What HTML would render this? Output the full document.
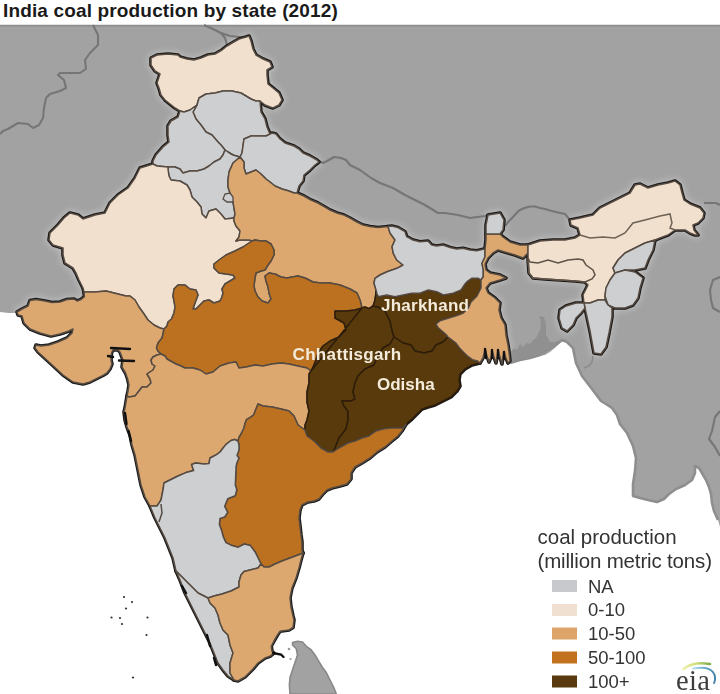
<!DOCTYPE html>
<html><head><meta charset="utf-8"><style>
html,body{margin:0;padding:0;background:#fff;}
body{width:720px;height:694px;overflow:hidden;position:relative;}
.title{position:absolute;left:3px;top:-0.5px;letter-spacing:0.15px;font-family:"Liberation Sans",sans-serif;font-weight:bold;font-size:19px;color:#1a1a1a;line-height:22px;white-space:nowrap;}
svg{position:absolute;left:0;top:0;filter:blur(0.3px);}
.lab{font-family:"Liberation Sans",sans-serif;font-weight:bold;font-size:17px;fill:#f3ebdb;}
.lt{font-family:"Liberation Sans",sans-serif;font-size:20.5px;fill:#333;}
.ll{font-family:"Liberation Sans",sans-serif;font-size:18.5px;fill:#333;}
.eia{font-family:"Liberation Serif",serif;font-size:28.5px;fill:#3d3d3d;letter-spacing:0.4px;}
</style></head><body>
<svg width="720" height="694" viewBox="0 0 720 694">
<rect x="0" y="0" width="720" height="694" fill="#ffffff"/>
<polygon points="0,25 720,25 720,527 718,520 714,511 712,503 711,494 709,487 706,480 702,473 699,468 695,466 695,473 692,480 685,485 676,489 669,494 664,499 657,502 648,500 640,498 633,496 633,493 633,484 635,471 636,458 633,446 627,433 620,424 617,415 612,408 606,404 601,401 592,389 582,376 576,363 573,348 567,342 562,340 556,345 548,350 540,355 530,358 520,360 510,363 500,330 300,330 150,330 60,315 20,312 17,313 9,313 0,312" fill="#a2a2a2"/>
<rect x="0" y="24" width="720" height="1" fill="#e2e2e2"/><rect x="0" y="25" width="720" height="1.6" fill="#8f8f8f"/>
<polygon points="292.5,642.5 297.5,641.3 302.5,642 306.3,646.3 311.3,650 315,655 318.8,661.3 322.5,667.5 326.3,672.5 330,680 333.8,687.5 336.3,694 290,694 289.4,685 290,677.5 292.5,670 295,662.5 297.5,655 296.3,648.8 292.5,645" fill="#a2a2a2" stroke="#888" stroke-width="1.6" stroke-linejoin="round"/>
<circle cx="289" cy="649" r="1.3" fill="#999"/><circle cx="290.5" cy="659" r="1.1" fill="#999"/>
<clipPath id="landclip"><polygon points="0,25 720,25 720,527 718,520 714,511 712,503 711,494 709,487 706,480 702,473 699,468 695,466 695,473 692,480 685,485 676,489 669,494 664,499 657,502 648,500 640,498 633,496 633,493 633,484 635,471 636,458 633,446 627,433 620,424 617,415 612,408 606,404 601,401 592,389 582,376 576,363 573,348 567,342 562,340 556,345 548,350 540,355 530,358 520,360 510,363 500,330 300,330 150,330 60,315 20,312 17,313 9,313 0,312"/></clipPath>
<filter id="blur3" x="-10%" y="-10%" width="120%" height="120%"><feGaussianBlur stdDeviation="3"/></filter>
<g clip-path="url(#landclip)"><g filter="url(#blur3)" opacity="0.45">
<polygon points="180,111 175,108 170,104 165,100 161,95 159,88 157,83 160,74 155,71 151,65 151,58 157,55 168,54 178,55 180,57 187,59 194,60 201,58 208,55 215,54 222,50 227,46 232,43 239,39 246,37 249,36 251,41 253,49 256,55 263,59 270,62 272,67 267,70 267,75 268,84 273,88 279,93 282,100 279,105 273,108 270,107 265,105 260,101 256,101 251,99 246,96 241,93 232,91 223,91 215,93 206,94 199,98 197,105 190,110 184,112" fill="#d8d8da" stroke="#d8d8da" stroke-width="7" stroke-linejoin="round"/>
<polygon points="197,105 199,98 206,94 215,93 223,91 232,91 241,93 246,96 251,99 256,101 260,101 261,112 265,119 267,127 270,134 266,136 259,136 251,136 244,139 243,146 242,153 240,157 233,155 228,152 225,150 221,145 218,142 212,135 206,132 201,125 196,119 193,112" fill="#d8d8da" stroke="#d8d8da" stroke-width="7" stroke-linejoin="round"/>
<polygon points="197,105 193,112 196,119 201,125 206,132 212,135 218,142 221,145 225,150 223,155 220,159 214,162 209,166 204,169 197,171 190,171 183,173 180,169 175,167 168,167 157,166 153,164 153,161 156,155 163,147 169,142 168,135 168,126 171,121 178,117 180,111 184,112 190,110" fill="#d8d8da" stroke="#d8d8da" stroke-width="7" stroke-linejoin="round"/>
<polygon points="168,167 175,167 180,169 183,173 190,171 197,171 204,169 209,166 214,162 220,159 223,155 225,150 228,152 233,155 240,157 233,163 229,172 228,180 228,187 230,193 233,202 234,208 235,214 234,218 225,219 221,214 216,209 209,211 206,218 202,214 201,207 197,202 192,197 190,190 187,185 180,181 171,180 169,176 168,169" fill="#d8d8da" stroke="#d8d8da" stroke-width="7" stroke-linejoin="round"/>
<polygon points="270,134 272,133 276,134 280,139 285,143 294,146 299,149 303,153 310,156 317,160 319,162 315,165 310,170 304,175 303,181 299,186 297,193 294,193 289,191 282,189 275,186 270,182 266,179 261,174 256,170 251,172 246,174 244,168 244,162 240,157 242,153 243,146 244,139 251,136 259,136 266,136" fill="#d8d8da" stroke="#d8d8da" stroke-width="7" stroke-linejoin="round"/>
<polygon points="153,164 140,168 135,178 128,188 118,195 110,203 105,213 95,215 83,219 78,215 70,213 64,218 58,225 50,233 49,240 53,245 63,248 63,255 65,263 73,268 76,273 79,280 83,288 84,292 95,292 106,291 118,294 126,296 130,296 135,300 139,307 144,314 148,320 154,325 160,328 164,329 167,326 168,322 171.5,319 174,313 175,307 174,301 173,296 174,289 178,285 185,285 190,289 196,290 198,295 195,303 193,309 196,309 200,305 204,301 209,300 214,303 220,301 222,297 223,293 222,289 225,284 230,281 235,278 233,275 226,274 219,273 214,268 214,264 219,260 226,255 235,251 243,247 252,241 249,240 240,240 236,241 239,237 240,231 236,226 234,221 234,218 225,219 221,214 216,209 209,211 206,218 202,214 201,207 197,202 192,197 190,190 187,185 180,181 171,180 169,176 168,169 168,167 157,166" fill="#d8d8da" stroke="#d8d8da" stroke-width="7" stroke-linejoin="round"/>
<polygon points="240,157 244,162 244,168 246,174 251,172 256,170 261,174 266,179 270,182 275,186 282,189 289,191 294,193 297,193 304,196 311,200 318,203 325,207 330,210 337,213 344,215 350,218 357,222 363,225 370,226.5 378,227.5 388,226.5 390,233 395,240 392,246.7 393.3,253.3 396.7,260 403,265 397,268.3 387,271.7 380,275 375,278.3 374,283 376,290 375.7,295 374.7,301 373,306 369,308.6 365,307 362,308 360,300 357,293 350,289 340,285 330,283 321,283 313,282 305,278 298,276 292,277 287,278 281,277 275,274 269,273 265,276 266,281 268,287 269,293 271,299 268,303 262,301 258,297 255,291 254,286 255,278 256,273 261,271 265,270 268,265 271,261 274,255 274,250 271,244 266,241 261,241 255,240 252,241 249,240 240,240 236,241 239,237 240,231 236,226 234,221 234,218 235,214 234,208 233,202 230,193 228,187 228,180 229,172 233,163" fill="#d8d8da" stroke="#d8d8da" stroke-width="7" stroke-linejoin="round"/>
<polygon points="84,292 84.4,296.7 81,299.5 77,301 74,299 67,299.5 60,302 52,302.6 45,301 36,299.5 30,300.5 28,306 22,309 17,312 18,315 22,316 24,323 30,329 40,333 51,336 60,334 69,331 73,329 72,333 67,338 58,342 49,345 41,346 36,345 35,348 38,352 50,363 63,375 73,382 83,384 90,382 96.5,378.6 103,375.4 107,373 110,369 112,364 111,360 111.5,353 113,350 118,350 120,352 123,360 122,367 125.5,373 127.6,379 129,385 128,391 127,396 129,397 135,396 139,391 142,387 147,387 151,383 150,379 147,374 153,370 155,366 152,364 151,360 153,357 157,355 161,354 158,351 156.5,348 158,343 162,338 163,334 164,329 160,328 154,325 148,320 144,314 139,307 135,300 130,296 126,296 118,294 106,291 95,292" fill="#d8d8da" stroke="#d8d8da" stroke-width="7" stroke-linejoin="round"/>
<polygon points="164,329 163,334 162,338 158,343 156.5,348 158,351 161,354 165,356 167,359 171.5,361.5 176,364 181,366 185,368 193,368 200,370 206,374 213,372 220,366 229,363 236,362 239,368 246,367 255,365 263,366 272,364 281,363 289,364 298,366 307,368 311,371 313,367 316,360 318,353 323,346 330,341 339,337 346,330 344,323 335,318 335,311 346,311 355,310 362,308 360,300 357,293 350,289 340,285 330,283 321,283 313,282 305,278 298,276 292,277 287,278 281,277 275,274 269,273 265,276 266,281 268,287 269,293 271,299 268,303 262,301 258,297 255,291 254,286 255,278 256,273 261,271 265,270 268,265 271,261 274,255 274,250 271,244 266,241 261,241 255,240 252,241 243,247 235,251 226,255 219,260 214,264 214,268 219,273 226,274 233,275 235,278 230,281 225,284 222,289 223,293 222,297 220,301 214,303 209,300 204,301 200,305 196,309 193,309 195,303 198,295 196,290 190,289 185,285 178,285 174,289 173,296 174,301 175,307 174,313 171.5,319 168,322 167,326" fill="#d8d8da" stroke="#d8d8da" stroke-width="7" stroke-linejoin="round"/>
<polygon points="161,354 157,355 153,357 151,360 152,364 155,366 153,370 147,374 150,379 151,383 147,387 142,387 139,391 135,396 129,397 127,396 126,402 125,408 124,412 125,420 127,427 130,435 132,445 135,455 138,470 141,485 145,497 150,506 157,506 161,500 163,490 164,483 170,480 178,476 186,472.6 193.6,470.6 191.6,464.5 195.6,463 200,463.4 204,464 209,463.5 210,458 213,456.5 216.5,454.7 220,452 222.5,448.7 226,444.4 231,440.5 234.6,439.5 238,441 239,437.5 241.5,433.2 244,428 245,423.6 246.7,419.3 250,417.6 253.6,415 258,404 263,406 272,407 281,409 289,411 294,416 298,425 305,430 305,425 307,420 309,411 307,402 307,392 309,383 309,374 311,371 307,368 298,366 289,364 281,363 272,364 263,366 255,365 246,367 239,368 236,362 229,363 220,366 213,372 206,374 200,370 193,368 185,368 181,366 176,364 171.5,361.5 167,359 165,356" fill="#d8d8da" stroke="#d8d8da" stroke-width="7" stroke-linejoin="round"/>
<polygon points="362,308 355,310 346,311 335,311 335,318 344,323 346,330 339,337 330,341 323,346 318,353 316,360 313,367 311,371 362,308 365,307 369,308.6 373,306 378,307 385,311 390,321 392,330 394,337 390,344 383,348 378,355 374,365 365,369 358,376 355,383 353,392 355,399 351,401 342,401 344,406 348,411 348,420 346,429 339,438 335,448 333,452 328,452 321,448 314,441 307,436 305,430 305,425 307,420 309,411 307,402 307,392 309,383 309,374 311,371" fill="#d8d8da" stroke="#d8d8da" stroke-width="7" stroke-linejoin="round"/>
<polygon points="376,290 377,294 378.3,296.7 386.7,295 395,296.7 403.3,295 411.7,293.3 420,293.3 428.3,290 436.7,291.7 443.3,295 453.3,293.3 461,290 465,284 467,281.7 471.7,278.3 478.3,278.3 481,280 481,288 477,296 471,302 468.5,307.8 463.3,313 457,315.6 448,318.2 440,320.8 436,324 438,327.5 442,331 446,334.5 448,337 443,342 436,345 432,351 424,353 415,351 411,345 403,343 394,337 392,330 390,321 385,311 378,307 373,306 374.7,301 375.7,295" fill="#d8d8da" stroke="#d8d8da" stroke-width="7" stroke-linejoin="round"/>
<polygon points="394,337 403,343 411,345 415,351 424,353 432,351 436,345 443,342 448,337 452,340 455.6,342.8 459.5,348 463.3,352 467.2,355.8 472.4,359.7 477.6,361 480,363 472,365 465,369 460,374 459,380 460,386 457,391 451,397 443,401 435,405 428,407 422,409 418,413 412,419 406,424 403,428 397,428 390,428 383,429 376,431 369,436 362,438 355,441 348,443 339,448 333,452 335,448 339,438 346,429 348,420 348,411 344,406 342,401 351,401 355,399 353,392 355,383 358,376 365,369 374,365 378,355 383,348 390,344" fill="#d8d8da" stroke="#d8d8da" stroke-width="7" stroke-linejoin="round"/>
<polygon points="388,226.5 391.7,226 398,227.5 405,231.7 406.7,236.7 413,240 420,241.7 428,241 431.7,245 436.7,246 443,245 450,247.5 456.7,249 463,248.3 470,250 476.7,250.8 483,249.2 485,249 485,256.7 482,263.3 483.3,270 483.3,276.7 481,280 478.3,278.3 471.7,278.3 467,281.7 465,284 461,290 453.3,293.3 443.3,295 436.7,291.7 428.3,290 420,293.3 411.7,293.3 403.3,295 395,296.7 386.7,295 378.3,296.7 377,294 376,290 374,283 375,278.3 380,275 387,271.7 397,268.3 403,265 396.7,260 393.3,253.3 392,246.7 395,240 390,233" fill="#d8d8da" stroke="#d8d8da" stroke-width="7" stroke-linejoin="round"/>
<polygon points="485,249 486,240 486,234 488,234 500,234 503,237 510,242 520,245 528,245 528,253 523,258 515,255 508,253 498,250 493,253 488,258 485,264 486,270 490,273 500,275 506,278 500,280 490,283 486,288 488,293 495,298 500,303 499,310 501,318 505,325 506,335 508,345 509,352 510,361 508,363 506,358 504,352 503,357 502,364 500,357 498,350 497,357 496,363 494,357 492,350 491,357 489,362 487,356 485,349 483,358 480,363 477.6,361 472.4,359.7 467.2,355.8 463.3,352 459.5,348 455.6,342.8 452,340 448,337 446,334.5 442,331 438,327.5 436,324 440,320.8 448,318.2 457,315.6 463.3,313 468.5,307.8 471,302 477,296 481,288 481,280 483.3,276.7 483.3,270 482,263.3 485,256.7" fill="#d8d8da" stroke="#d8d8da" stroke-width="7" stroke-linejoin="round"/>
<polygon points="486,234 486,225 488,215 500,213 504,220 503,230 500,234 488,234" fill="#d8d8da" stroke="#d8d8da" stroke-width="7" stroke-linejoin="round"/>
<polygon points="238,441 239,445 239,450 237,455.6 239,458 237,462.5 236,467 236,470 235.3,485 236.8,489.7 235.3,495.7 227.7,498.7 224.7,506.3 227.7,512.4 224.7,517 220,518.4 219.4,524.5 221.6,530.5 223.2,536.6 226,542.6 232,545.6 238.3,547.2 244.3,544 250.4,545.6 255,551.7 258,557.7 261,564 264,567 269,567 275,564 282,561 290,558 298,555 303,553 302,550 302,542 301,535 300,526 299,518 300,510 302,505 308,502 314,501 319,499 323,494 327,490 332,488 340,486 347,484 351,479 351,473 355,467 362,463 370,458 377,452 385,447 392,441 398,436 402,431 406,424 403,428 397,428 390,428 383,429 376,431 369,436 362,438 355,441 348,443 339,448 333,452 328,452 321,448 314,441 307,436 305,430 298,425 294,416 289,411 281,409 272,407 263,406 258,404 253.6,415 250,417.6 246.7,419.3 245,423.6 244,428 241.5,433.2 239,437.5" fill="#d8d8da" stroke="#d8d8da" stroke-width="7" stroke-linejoin="round"/>
<polygon points="238,441 234.6,439.5 231,440.5 226,444.4 222.5,448.7 220,452 216.5,454.7 213,456.5 210,458 209,463.5 204,464 200,463.4 195.6,463 191.6,464.5 193.6,470.6 186,472.6 178,476 170,480 164,483 163,490 161,500 157,506 150,506 155,518 160,528 165,538 169,548 173,558 176,571 183,578 190,585 198,593 208,598 214,596 222,594 231,591 239,587 239,582 241,575 244,571.4 250,570 258,568 261,564 258,557.7 255,551.7 250.4,545.6 244.3,544 238.3,547.2 232,545.6 226,542.6 223.2,536.6 221.6,530.5 219.4,524.5 220,518.4 224.7,517 227.7,512.4 224.7,506.3 227.7,498.7 235.3,495.7 236.8,489.7 235.3,485 236,470 236,467 237,462.5 239,458 237,455.6 239,450 239,445" fill="#d8d8da" stroke="#d8d8da" stroke-width="7" stroke-linejoin="round"/>
<polygon points="176,571 180,580 185,593 190,603 195,613 200,623 205,633 210,643 214,653 218,663 223,670 228,676 234,680 230,673 230,663 233,653 230,645 228,635 223,630 220,623 218,615 215,608 210,603 208,598 198,593 190,585 183,578" fill="#d8d8da" stroke="#d8d8da" stroke-width="7" stroke-linejoin="round"/>
<polygon points="261,564 264,567 269,567 275,564 282,561 290,558 298,555 303,553 301,560 299,568 296,578 292,588 290,598 291,607 293,616 294,620 293,627.5 289,630 280,631.3 277.5,635 274,641 271.3,646.3 272,651.3 274,653 270,656.3 265,658 258,663 253,669 245,677 238,681 234,680 230,673 230,663 233,653 230,645 228,635 223,630 220,623 218,615 215,608 210,603 208,598 214,596 222,594 231,591 239,587 239,582 241,575 244,571.4 250,570 258,568" fill="#d8d8da" stroke="#d8d8da" stroke-width="7" stroke-linejoin="round"/>
<polygon points="528,245 540,241 553,240 565,240 575,238 580,235 578,228 571,225 570,220 580,218 593,215 600,208 610,203 620,198 630,193 635,185 640,184 648,188 658,185 668,183 675,181 680,185 682,193 684,200 690,204 700,208 704,213 703,218 698,223 693,225 694,230 698,235 695,235 690,233 685,230 675,230 668,235 660,238 655,240 645,243 635,248 625,253 618,260 613,268 615,273 610,280 606,288 605,296 605,300 598,300 590,303 584,303 583,295 588,285 585,282 575,281 560,280 545,279 533,278 529,273 528,258 528,253" fill="#d8d8da" stroke="#d8d8da" stroke-width="7" stroke-linejoin="round"/>
<polygon points="655,240 653,250 648,260 645,268 635,270 625,270 615,273 613,268 618,260 625,253 635,248 645,243" fill="#d8d8da" stroke="#d8d8da" stroke-width="7" stroke-linejoin="round"/>
<polygon points="615,273 625,270 635,272 643,278 640,288 638,298 633,305 625,308 615,308 608,305 605,296 606,288 610,280" fill="#d8d8da" stroke="#d8d8da" stroke-width="7" stroke-linejoin="round"/>
<polygon points="584,303 590,303 598,300 605,300 608,305 612,308 612,317 609,333 606,347 601,354 594,353 592,342 590,331 587,317 585,308" fill="#d8d8da" stroke="#d8d8da" stroke-width="7" stroke-linejoin="round"/>
<polygon points="560,310 566,306 576,303 584,303 585,308 581,313 576,318 573,325 567,331 562,328 559,318" fill="#d8d8da" stroke="#d8d8da" stroke-width="7" stroke-linejoin="round"/>
</g></g>
<polygon points="510,363 511,352 514,348 517,350 520,344 523,347 527,343 530,344 533,340 536,338 540,330 541,322 539,316 544,317 546,325 546,335 550,342 555,342 560,340 556,347 550,352 545,355 535,357 525,358 518,360" fill="#8c8c8c" opacity="0.8"/>
<polyline points="718,520 714,511 712,503 711,494 709,487 706,480 702,473 699,468 695,466 695,473 692,480 685,485 676,489 669,494 664,499 657,502 648,500 640,498 633,496 633,493 633,484 635,471 636,458 633,446 627,433 620,424 617,415 612,408 606,404 601,401 592,389 582,376 576,363 573,348 567,342 562,340 556,345 548,350 540,355 530,358 520,360 510,363" fill="none" stroke="#8e8e8e" stroke-width="2.6" stroke-linejoin="round"/>
<polyline points="584,368 589,366 592,362 593,356" fill="none" stroke="#8a8a8a" stroke-width="1.5"/>
<polyline points="720,277 713,280 710,290 711,300 713,308 720,312" fill="none" stroke="#767676" stroke-width="2.1" stroke-linejoin="round"/>
<polyline points="93,25 98,35 98,45 90,53 85,60 86,69 80,73 60,73 58,75 64,80 66,88 60,91 50,94 46,98 44,108 43,118 39,125 33,128 28,124 18,123 8,129 3,131 0,134" fill="none" stroke="#767676" stroke-width="2.1" stroke-linejoin="round"/>
<polyline points="204,25 213,29 221,33 225,38 227,45" fill="none" stroke="#767676" stroke-width="2.1" stroke-linejoin="round"/>
<polyline points="221,33 230,36 240,37 246,37" fill="none" stroke="#767676" stroke-width="2.1" stroke-linejoin="round"/>
<polyline points="317,160 323,163 329,160 334,157 341,158 346,160 350,165 360,170 371,178 380,183 393,188 405,195 415,200 425,205 438,213 445,213 458,215 470,218 485,216 488,215" fill="none" stroke="#767676" stroke-width="2.1" stroke-linejoin="round"/>
<polyline points="505,226 509,221 513,217 519,210.5 524.5,208 530,206.5 535,206.5 540,208 545,209 550,210.5 556,212 565,214 570,220" fill="none" stroke="#767676" stroke-width="2.1" stroke-linejoin="round"/>
<polyline points="704,203 716,203 720,205" fill="none" stroke="#767676" stroke-width="2.1" stroke-linejoin="round"/>
<polyline points="720,411 715,417 712,431 709,439 715,447 720,456" fill="none" stroke="#767676" stroke-width="2.1" stroke-linejoin="round"/>
<circle cx="124" cy="597" r="1.1" fill="#333"/>
<circle cx="132" cy="602" r="1.1" fill="#333"/>
<circle cx="126" cy="608.5" r="1.1" fill="#333"/>
<circle cx="111.5" cy="617.5" r="1.1" fill="#333"/>
<circle cx="120" cy="618" r="1.1" fill="#333"/>
<circle cx="122" cy="624" r="1.1" fill="#333"/>
<circle cx="147.5" cy="617.5" r="1.1" fill="#333"/>
<circle cx="146.5" cy="635" r="1.1" fill="#333"/>
<circle cx="133" cy="677.5" r="1.1" fill="#333"/>
<polygon points="180,111 175,108 170,104 165,100 161,95 159,88 157,83 160,74 155,71 151,65 151,58 157,55 168,54 178,55 180,57 187,59 194,60 201,58 208,55 215,54 222,50 227,46 232,43 239,39 246,37 249,36 251,41 253,49 256,55 263,59 270,62 272,67 267,70 267,75 268,84 273,88 279,93 282,100 279,105 273,108 270,107 265,105 260,101 256,101 251,99 246,96 241,93 232,91 223,91 215,93 206,94 199,98 197,105 190,110 184,112" fill="#f1e0ce" stroke="#1a1816" stroke-width="3.6" stroke-linejoin="round"/>
<polygon points="197,105 199,98 206,94 215,93 223,91 232,91 241,93 246,96 251,99 256,101 260,101 261,112 265,119 267,127 270,134 266,136 259,136 251,136 244,139 243,146 242,153 240,157 233,155 228,152 225,150 221,145 218,142 212,135 206,132 201,125 196,119 193,112" fill="#cecfd1" stroke="#1a1816" stroke-width="3.6" stroke-linejoin="round"/>
<polygon points="197,105 193,112 196,119 201,125 206,132 212,135 218,142 221,145 225,150 223,155 220,159 214,162 209,166 204,169 197,171 190,171 183,173 180,169 175,167 168,167 157,166 153,164 153,161 156,155 163,147 169,142 168,135 168,126 171,121 178,117 180,111 184,112 190,110" fill="#cecfd1" stroke="#1a1816" stroke-width="3.6" stroke-linejoin="round"/>
<polygon points="168,167 175,167 180,169 183,173 190,171 197,171 204,169 209,166 214,162 220,159 223,155 225,150 228,152 233,155 240,157 233,163 229,172 228,180 228,187 230,193 233,202 234,208 235,214 234,218 225,219 221,214 216,209 209,211 206,218 202,214 201,207 197,202 192,197 190,190 187,185 180,181 171,180 169,176 168,169" fill="#cecfd1" stroke="#1a1816" stroke-width="3.6" stroke-linejoin="round"/>
<polygon points="270,134 272,133 276,134 280,139 285,143 294,146 299,149 303,153 310,156 317,160 319,162 315,165 310,170 304,175 303,181 299,186 297,193 294,193 289,191 282,189 275,186 270,182 266,179 261,174 256,170 251,172 246,174 244,168 244,162 240,157 242,153 243,146 244,139 251,136 259,136 266,136" fill="#cecfd1" stroke="#1a1816" stroke-width="3.6" stroke-linejoin="round"/>
<polygon points="153,164 140,168 135,178 128,188 118,195 110,203 105,213 95,215 83,219 78,215 70,213 64,218 58,225 50,233 49,240 53,245 63,248 63,255 65,263 73,268 76,273 79,280 83,288 84,292 95,292 106,291 118,294 126,296 130,296 135,300 139,307 144,314 148,320 154,325 160,328 164,329 167,326 168,322 171.5,319 174,313 175,307 174,301 173,296 174,289 178,285 185,285 190,289 196,290 198,295 195,303 193,309 196,309 200,305 204,301 209,300 214,303 220,301 222,297 223,293 222,289 225,284 230,281 235,278 233,275 226,274 219,273 214,268 214,264 219,260 226,255 235,251 243,247 252,241 249,240 240,240 236,241 239,237 240,231 236,226 234,221 234,218 225,219 221,214 216,209 209,211 206,218 202,214 201,207 197,202 192,197 190,190 187,185 180,181 171,180 169,176 168,169 168,167 157,166" fill="#f1e0ce" stroke="#1a1816" stroke-width="3.6" stroke-linejoin="round"/>
<polygon points="240,157 244,162 244,168 246,174 251,172 256,170 261,174 266,179 270,182 275,186 282,189 289,191 294,193 297,193 304,196 311,200 318,203 325,207 330,210 337,213 344,215 350,218 357,222 363,225 370,226.5 378,227.5 388,226.5 390,233 395,240 392,246.7 393.3,253.3 396.7,260 403,265 397,268.3 387,271.7 380,275 375,278.3 374,283 376,290 375.7,295 374.7,301 373,306 369,308.6 365,307 362,308 360,300 357,293 350,289 340,285 330,283 321,283 313,282 305,278 298,276 292,277 287,278 281,277 275,274 269,273 265,276 266,281 268,287 269,293 271,299 268,303 262,301 258,297 255,291 254,286 255,278 256,273 261,271 265,270 268,265 271,261 274,255 274,250 271,244 266,241 261,241 255,240 252,241 249,240 240,240 236,241 239,237 240,231 236,226 234,221 234,218 235,214 234,208 233,202 230,193 228,187 228,180 229,172 233,163" fill="#dca86f" stroke="#1a1816" stroke-width="3.6" stroke-linejoin="round"/>
<polygon points="84,292 84.4,296.7 81,299.5 77,301 74,299 67,299.5 60,302 52,302.6 45,301 36,299.5 30,300.5 28,306 22,309 17,312 18,315 22,316 24,323 30,329 40,333 51,336 60,334 69,331 73,329 72,333 67,338 58,342 49,345 41,346 36,345 35,348 38,352 50,363 63,375 73,382 83,384 90,382 96.5,378.6 103,375.4 107,373 110,369 112,364 111,360 111.5,353 113,350 118,350 120,352 123,360 122,367 125.5,373 127.6,379 129,385 128,391 127,396 129,397 135,396 139,391 142,387 147,387 151,383 150,379 147,374 153,370 155,366 152,364 151,360 153,357 157,355 161,354 158,351 156.5,348 158,343 162,338 163,334 164,329 160,328 154,325 148,320 144,314 139,307 135,300 130,296 126,296 118,294 106,291 95,292" fill="#dca86f" stroke="#1a1816" stroke-width="3.6" stroke-linejoin="round"/>
<polygon points="164,329 163,334 162,338 158,343 156.5,348 158,351 161,354 165,356 167,359 171.5,361.5 176,364 181,366 185,368 193,368 200,370 206,374 213,372 220,366 229,363 236,362 239,368 246,367 255,365 263,366 272,364 281,363 289,364 298,366 307,368 311,371 313,367 316,360 318,353 323,346 330,341 339,337 346,330 344,323 335,318 335,311 346,311 355,310 362,308 360,300 357,293 350,289 340,285 330,283 321,283 313,282 305,278 298,276 292,277 287,278 281,277 275,274 269,273 265,276 266,281 268,287 269,293 271,299 268,303 262,301 258,297 255,291 254,286 255,278 256,273 261,271 265,270 268,265 271,261 274,255 274,250 271,244 266,241 261,241 255,240 252,241 243,247 235,251 226,255 219,260 214,264 214,268 219,273 226,274 233,275 235,278 230,281 225,284 222,289 223,293 222,297 220,301 214,303 209,300 204,301 200,305 196,309 193,309 195,303 198,295 196,290 190,289 185,285 178,285 174,289 173,296 174,301 175,307 174,313 171.5,319 168,322 167,326" fill="#bb7120" stroke="#1a1816" stroke-width="3.6" stroke-linejoin="round"/>
<polygon points="161,354 157,355 153,357 151,360 152,364 155,366 153,370 147,374 150,379 151,383 147,387 142,387 139,391 135,396 129,397 127,396 126,402 125,408 124,412 125,420 127,427 130,435 132,445 135,455 138,470 141,485 145,497 150,506 157,506 161,500 163,490 164,483 170,480 178,476 186,472.6 193.6,470.6 191.6,464.5 195.6,463 200,463.4 204,464 209,463.5 210,458 213,456.5 216.5,454.7 220,452 222.5,448.7 226,444.4 231,440.5 234.6,439.5 238,441 239,437.5 241.5,433.2 244,428 245,423.6 246.7,419.3 250,417.6 253.6,415 258,404 263,406 272,407 281,409 289,411 294,416 298,425 305,430 305,425 307,420 309,411 307,402 307,392 309,383 309,374 311,371 307,368 298,366 289,364 281,363 272,364 263,366 255,365 246,367 239,368 236,362 229,363 220,366 213,372 206,374 200,370 193,368 185,368 181,366 176,364 171.5,361.5 167,359 165,356" fill="#dca86f" stroke="#1a1816" stroke-width="3.6" stroke-linejoin="round"/>
<polygon points="362,308 355,310 346,311 335,311 335,318 344,323 346,330 339,337 330,341 323,346 318,353 316,360 313,367 311,371 362,308 365,307 369,308.6 373,306 378,307 385,311 390,321 392,330 394,337 390,344 383,348 378,355 374,365 365,369 358,376 355,383 353,392 355,399 351,401 342,401 344,406 348,411 348,420 346,429 339,438 335,448 333,452 328,452 321,448 314,441 307,436 305,430 305,425 307,420 309,411 307,402 307,392 309,383 309,374 311,371" fill="#593a0c" stroke="#1a1816" stroke-width="3.6" stroke-linejoin="round"/>
<polygon points="376,290 377,294 378.3,296.7 386.7,295 395,296.7 403.3,295 411.7,293.3 420,293.3 428.3,290 436.7,291.7 443.3,295 453.3,293.3 461,290 465,284 467,281.7 471.7,278.3 478.3,278.3 481,280 481,288 477,296 471,302 468.5,307.8 463.3,313 457,315.6 448,318.2 440,320.8 436,324 438,327.5 442,331 446,334.5 448,337 443,342 436,345 432,351 424,353 415,351 411,345 403,343 394,337 392,330 390,321 385,311 378,307 373,306 374.7,301 375.7,295" fill="#593a0c" stroke="#1a1816" stroke-width="3.6" stroke-linejoin="round"/>
<polygon points="394,337 403,343 411,345 415,351 424,353 432,351 436,345 443,342 448,337 452,340 455.6,342.8 459.5,348 463.3,352 467.2,355.8 472.4,359.7 477.6,361 480,363 472,365 465,369 460,374 459,380 460,386 457,391 451,397 443,401 435,405 428,407 422,409 418,413 412,419 406,424 403,428 397,428 390,428 383,429 376,431 369,436 362,438 355,441 348,443 339,448 333,452 335,448 339,438 346,429 348,420 348,411 344,406 342,401 351,401 355,399 353,392 355,383 358,376 365,369 374,365 378,355 383,348 390,344" fill="#593a0c" stroke="#1a1816" stroke-width="3.6" stroke-linejoin="round"/>
<polygon points="388,226.5 391.7,226 398,227.5 405,231.7 406.7,236.7 413,240 420,241.7 428,241 431.7,245 436.7,246 443,245 450,247.5 456.7,249 463,248.3 470,250 476.7,250.8 483,249.2 485,249 485,256.7 482,263.3 483.3,270 483.3,276.7 481,280 478.3,278.3 471.7,278.3 467,281.7 465,284 461,290 453.3,293.3 443.3,295 436.7,291.7 428.3,290 420,293.3 411.7,293.3 403.3,295 395,296.7 386.7,295 378.3,296.7 377,294 376,290 374,283 375,278.3 380,275 387,271.7 397,268.3 403,265 396.7,260 393.3,253.3 392,246.7 395,240 390,233" fill="#cecfd1" stroke="#1a1816" stroke-width="3.6" stroke-linejoin="round"/>
<polygon points="485,249 486,240 486,234 488,234 500,234 503,237 510,242 520,245 528,245 528,253 523,258 515,255 508,253 498,250 493,253 488,258 485,264 486,270 490,273 500,275 506,278 500,280 490,283 486,288 488,293 495,298 500,303 499,310 501,318 505,325 506,335 508,345 509,352 510,361 508,363 506,358 504,352 503,357 502,364 500,357 498,350 497,357 496,363 494,357 492,350 491,357 489,362 487,356 485,349 483,358 480,363 477.6,361 472.4,359.7 467.2,355.8 463.3,352 459.5,348 455.6,342.8 452,340 448,337 446,334.5 442,331 438,327.5 436,324 440,320.8 448,318.2 457,315.6 463.3,313 468.5,307.8 471,302 477,296 481,288 481,280 483.3,276.7 483.3,270 482,263.3 485,256.7" fill="#dca86f" stroke="#1a1816" stroke-width="3.6" stroke-linejoin="round"/>
<polygon points="486,234 486,225 488,215 500,213 504,220 503,230 500,234 488,234" fill="#cecfd1" stroke="#1a1816" stroke-width="3.6" stroke-linejoin="round"/>
<polygon points="238,441 239,445 239,450 237,455.6 239,458 237,462.5 236,467 236,470 235.3,485 236.8,489.7 235.3,495.7 227.7,498.7 224.7,506.3 227.7,512.4 224.7,517 220,518.4 219.4,524.5 221.6,530.5 223.2,536.6 226,542.6 232,545.6 238.3,547.2 244.3,544 250.4,545.6 255,551.7 258,557.7 261,564 264,567 269,567 275,564 282,561 290,558 298,555 303,553 302,550 302,542 301,535 300,526 299,518 300,510 302,505 308,502 314,501 319,499 323,494 327,490 332,488 340,486 347,484 351,479 351,473 355,467 362,463 370,458 377,452 385,447 392,441 398,436 402,431 406,424 403,428 397,428 390,428 383,429 376,431 369,436 362,438 355,441 348,443 339,448 333,452 328,452 321,448 314,441 307,436 305,430 298,425 294,416 289,411 281,409 272,407 263,406 258,404 253.6,415 250,417.6 246.7,419.3 245,423.6 244,428 241.5,433.2 239,437.5" fill="#bb7120" stroke="#1a1816" stroke-width="3.6" stroke-linejoin="round"/>
<polygon points="238,441 234.6,439.5 231,440.5 226,444.4 222.5,448.7 220,452 216.5,454.7 213,456.5 210,458 209,463.5 204,464 200,463.4 195.6,463 191.6,464.5 193.6,470.6 186,472.6 178,476 170,480 164,483 163,490 161,500 157,506 150,506 155,518 160,528 165,538 169,548 173,558 176,571 183,578 190,585 198,593 208,598 214,596 222,594 231,591 239,587 239,582 241,575 244,571.4 250,570 258,568 261,564 258,557.7 255,551.7 250.4,545.6 244.3,544 238.3,547.2 232,545.6 226,542.6 223.2,536.6 221.6,530.5 219.4,524.5 220,518.4 224.7,517 227.7,512.4 224.7,506.3 227.7,498.7 235.3,495.7 236.8,489.7 235.3,485 236,470 236,467 237,462.5 239,458 237,455.6 239,450 239,445" fill="#cecfd1" stroke="#1a1816" stroke-width="3.6" stroke-linejoin="round"/>
<polygon points="176,571 180,580 185,593 190,603 195,613 200,623 205,633 210,643 214,653 218,663 223,670 228,676 234,680 230,673 230,663 233,653 230,645 228,635 223,630 220,623 218,615 215,608 210,603 208,598 198,593 190,585 183,578" fill="#cecfd1" stroke="#1a1816" stroke-width="3.6" stroke-linejoin="round"/>
<polygon points="261,564 264,567 269,567 275,564 282,561 290,558 298,555 303,553 301,560 299,568 296,578 292,588 290,598 291,607 293,616 294,620 293,627.5 289,630 280,631.3 277.5,635 274,641 271.3,646.3 272,651.3 274,653 270,656.3 265,658 258,663 253,669 245,677 238,681 234,680 230,673 230,663 233,653 230,645 228,635 223,630 220,623 218,615 215,608 210,603 208,598 214,596 222,594 231,591 239,587 239,582 241,575 244,571.4 250,570 258,568" fill="#dca86f" stroke="#1a1816" stroke-width="3.6" stroke-linejoin="round"/>
<polygon points="528,245 540,241 553,240 565,240 575,238 580,235 578,228 571,225 570,220 580,218 593,215 600,208 610,203 620,198 630,193 635,185 640,184 648,188 658,185 668,183 675,181 680,185 682,193 684,200 690,204 700,208 704,213 703,218 698,223 693,225 694,230 698,235 695,235 690,233 685,230 675,230 668,235 660,238 655,240 645,243 635,248 625,253 618,260 613,268 615,273 610,280 606,288 605,296 605,300 598,300 590,303 584,303 583,295 588,285 585,282 575,281 560,280 545,279 533,278 529,273 528,258 528,253" fill="#f1e0ce" stroke="#1a1816" stroke-width="3.6" stroke-linejoin="round"/>
<polygon points="655,240 653,250 648,260 645,268 635,270 625,270 615,273 613,268 618,260 625,253 635,248 645,243" fill="#cecfd1" stroke="#1a1816" stroke-width="3.6" stroke-linejoin="round"/>
<polygon points="615,273 625,270 635,272 643,278 640,288 638,298 633,305 625,308 615,308 608,305 605,296 606,288 610,280" fill="#cecfd1" stroke="#1a1816" stroke-width="3.6" stroke-linejoin="round"/>
<polygon points="584,303 590,303 598,300 605,300 608,305 612,308 612,317 609,333 606,347 601,354 594,353 592,342 590,331 587,317 585,308" fill="#cecfd1" stroke="#1a1816" stroke-width="3.6" stroke-linejoin="round"/>
<polygon points="560,310 566,306 576,303 584,303 585,308 581,313 576,318 573,325 567,331 562,328 559,318" fill="#cecfd1" stroke="#1a1816" stroke-width="3.6" stroke-linejoin="round"/>
<polygon points="180,111 175,108 170,104 165,100 161,95 159,88 157,83 160,74 155,71 151,65 151,58 157,55 168,54 178,55 180,57 187,59 194,60 201,58 208,55 215,54 222,50 227,46 232,43 239,39 246,37 249,36 251,41 253,49 256,55 263,59 270,62 272,67 267,70 267,75 268,84 273,88 279,93 282,100 279,105 273,108 270,107 265,105 260,101 256,101 251,99 246,96 241,93 232,91 223,91 215,93 206,94 199,98 197,105 190,110 184,112" fill="#f1e0ce" stroke="#564b42" stroke-width="1.5" stroke-linejoin="round"/>
<polygon points="197,105 199,98 206,94 215,93 223,91 232,91 241,93 246,96 251,99 256,101 260,101 261,112 265,119 267,127 270,134 266,136 259,136 251,136 244,139 243,146 242,153 240,157 233,155 228,152 225,150 221,145 218,142 212,135 206,132 201,125 196,119 193,112" fill="#cecfd1" stroke="#564b42" stroke-width="1.5" stroke-linejoin="round"/>
<polygon points="197,105 193,112 196,119 201,125 206,132 212,135 218,142 221,145 225,150 223,155 220,159 214,162 209,166 204,169 197,171 190,171 183,173 180,169 175,167 168,167 157,166 153,164 153,161 156,155 163,147 169,142 168,135 168,126 171,121 178,117 180,111 184,112 190,110" fill="#cecfd1" stroke="#564b42" stroke-width="1.5" stroke-linejoin="round"/>
<polygon points="168,167 175,167 180,169 183,173 190,171 197,171 204,169 209,166 214,162 220,159 223,155 225,150 228,152 233,155 240,157 233,163 229,172 228,180 228,187 230,193 233,202 234,208 235,214 234,218 225,219 221,214 216,209 209,211 206,218 202,214 201,207 197,202 192,197 190,190 187,185 180,181 171,180 169,176 168,169" fill="#cecfd1" stroke="#564b42" stroke-width="1.5" stroke-linejoin="round"/>
<polygon points="270,134 272,133 276,134 280,139 285,143 294,146 299,149 303,153 310,156 317,160 319,162 315,165 310,170 304,175 303,181 299,186 297,193 294,193 289,191 282,189 275,186 270,182 266,179 261,174 256,170 251,172 246,174 244,168 244,162 240,157 242,153 243,146 244,139 251,136 259,136 266,136" fill="#cecfd1" stroke="#564b42" stroke-width="1.5" stroke-linejoin="round"/>
<polygon points="153,164 140,168 135,178 128,188 118,195 110,203 105,213 95,215 83,219 78,215 70,213 64,218 58,225 50,233 49,240 53,245 63,248 63,255 65,263 73,268 76,273 79,280 83,288 84,292 95,292 106,291 118,294 126,296 130,296 135,300 139,307 144,314 148,320 154,325 160,328 164,329 167,326 168,322 171.5,319 174,313 175,307 174,301 173,296 174,289 178,285 185,285 190,289 196,290 198,295 195,303 193,309 196,309 200,305 204,301 209,300 214,303 220,301 222,297 223,293 222,289 225,284 230,281 235,278 233,275 226,274 219,273 214,268 214,264 219,260 226,255 235,251 243,247 252,241 249,240 240,240 236,241 239,237 240,231 236,226 234,221 234,218 225,219 221,214 216,209 209,211 206,218 202,214 201,207 197,202 192,197 190,190 187,185 180,181 171,180 169,176 168,169 168,167 157,166" fill="#f1e0ce" stroke="#564b42" stroke-width="1.5" stroke-linejoin="round"/>
<polygon points="240,157 244,162 244,168 246,174 251,172 256,170 261,174 266,179 270,182 275,186 282,189 289,191 294,193 297,193 304,196 311,200 318,203 325,207 330,210 337,213 344,215 350,218 357,222 363,225 370,226.5 378,227.5 388,226.5 390,233 395,240 392,246.7 393.3,253.3 396.7,260 403,265 397,268.3 387,271.7 380,275 375,278.3 374,283 376,290 375.7,295 374.7,301 373,306 369,308.6 365,307 362,308 360,300 357,293 350,289 340,285 330,283 321,283 313,282 305,278 298,276 292,277 287,278 281,277 275,274 269,273 265,276 266,281 268,287 269,293 271,299 268,303 262,301 258,297 255,291 254,286 255,278 256,273 261,271 265,270 268,265 271,261 274,255 274,250 271,244 266,241 261,241 255,240 252,241 249,240 240,240 236,241 239,237 240,231 236,226 234,221 234,218 235,214 234,208 233,202 230,193 228,187 228,180 229,172 233,163" fill="#dca86f" stroke="#564b42" stroke-width="1.5" stroke-linejoin="round"/>
<polygon points="84,292 84.4,296.7 81,299.5 77,301 74,299 67,299.5 60,302 52,302.6 45,301 36,299.5 30,300.5 28,306 22,309 17,312 18,315 22,316 24,323 30,329 40,333 51,336 60,334 69,331 73,329 72,333 67,338 58,342 49,345 41,346 36,345 35,348 38,352 50,363 63,375 73,382 83,384 90,382 96.5,378.6 103,375.4 107,373 110,369 112,364 111,360 111.5,353 113,350 118,350 120,352 123,360 122,367 125.5,373 127.6,379 129,385 128,391 127,396 129,397 135,396 139,391 142,387 147,387 151,383 150,379 147,374 153,370 155,366 152,364 151,360 153,357 157,355 161,354 158,351 156.5,348 158,343 162,338 163,334 164,329 160,328 154,325 148,320 144,314 139,307 135,300 130,296 126,296 118,294 106,291 95,292" fill="#dca86f" stroke="#564b42" stroke-width="1.5" stroke-linejoin="round"/>
<polygon points="164,329 163,334 162,338 158,343 156.5,348 158,351 161,354 165,356 167,359 171.5,361.5 176,364 181,366 185,368 193,368 200,370 206,374 213,372 220,366 229,363 236,362 239,368 246,367 255,365 263,366 272,364 281,363 289,364 298,366 307,368 311,371 313,367 316,360 318,353 323,346 330,341 339,337 346,330 344,323 335,318 335,311 346,311 355,310 362,308 360,300 357,293 350,289 340,285 330,283 321,283 313,282 305,278 298,276 292,277 287,278 281,277 275,274 269,273 265,276 266,281 268,287 269,293 271,299 268,303 262,301 258,297 255,291 254,286 255,278 256,273 261,271 265,270 268,265 271,261 274,255 274,250 271,244 266,241 261,241 255,240 252,241 243,247 235,251 226,255 219,260 214,264 214,268 219,273 226,274 233,275 235,278 230,281 225,284 222,289 223,293 222,297 220,301 214,303 209,300 204,301 200,305 196,309 193,309 195,303 198,295 196,290 190,289 185,285 178,285 174,289 173,296 174,301 175,307 174,313 171.5,319 168,322 167,326" fill="#bb7120" stroke="#564b42" stroke-width="1.5" stroke-linejoin="round"/>
<polygon points="161,354 157,355 153,357 151,360 152,364 155,366 153,370 147,374 150,379 151,383 147,387 142,387 139,391 135,396 129,397 127,396 126,402 125,408 124,412 125,420 127,427 130,435 132,445 135,455 138,470 141,485 145,497 150,506 157,506 161,500 163,490 164,483 170,480 178,476 186,472.6 193.6,470.6 191.6,464.5 195.6,463 200,463.4 204,464 209,463.5 210,458 213,456.5 216.5,454.7 220,452 222.5,448.7 226,444.4 231,440.5 234.6,439.5 238,441 239,437.5 241.5,433.2 244,428 245,423.6 246.7,419.3 250,417.6 253.6,415 258,404 263,406 272,407 281,409 289,411 294,416 298,425 305,430 305,425 307,420 309,411 307,402 307,392 309,383 309,374 311,371 307,368 298,366 289,364 281,363 272,364 263,366 255,365 246,367 239,368 236,362 229,363 220,366 213,372 206,374 200,370 193,368 185,368 181,366 176,364 171.5,361.5 167,359 165,356" fill="#dca86f" stroke="#564b42" stroke-width="1.5" stroke-linejoin="round"/>
<polygon points="362,308 355,310 346,311 335,311 335,318 344,323 346,330 339,337 330,341 323,346 318,353 316,360 313,367 311,371 362,308 365,307 369,308.6 373,306 378,307 385,311 390,321 392,330 394,337 390,344 383,348 378,355 374,365 365,369 358,376 355,383 353,392 355,399 351,401 342,401 344,406 348,411 348,420 346,429 339,438 335,448 333,452 328,452 321,448 314,441 307,436 305,430 305,425 307,420 309,411 307,402 307,392 309,383 309,374 311,371" fill="#593a0c" stroke="#2e1d0a" stroke-width="1.5" stroke-linejoin="round"/>
<polygon points="376,290 377,294 378.3,296.7 386.7,295 395,296.7 403.3,295 411.7,293.3 420,293.3 428.3,290 436.7,291.7 443.3,295 453.3,293.3 461,290 465,284 467,281.7 471.7,278.3 478.3,278.3 481,280 481,288 477,296 471,302 468.5,307.8 463.3,313 457,315.6 448,318.2 440,320.8 436,324 438,327.5 442,331 446,334.5 448,337 443,342 436,345 432,351 424,353 415,351 411,345 403,343 394,337 392,330 390,321 385,311 378,307 373,306 374.7,301 375.7,295" fill="#593a0c" stroke="#2e1d0a" stroke-width="1.5" stroke-linejoin="round"/>
<polygon points="394,337 403,343 411,345 415,351 424,353 432,351 436,345 443,342 448,337 452,340 455.6,342.8 459.5,348 463.3,352 467.2,355.8 472.4,359.7 477.6,361 480,363 472,365 465,369 460,374 459,380 460,386 457,391 451,397 443,401 435,405 428,407 422,409 418,413 412,419 406,424 403,428 397,428 390,428 383,429 376,431 369,436 362,438 355,441 348,443 339,448 333,452 335,448 339,438 346,429 348,420 348,411 344,406 342,401 351,401 355,399 353,392 355,383 358,376 365,369 374,365 378,355 383,348 390,344" fill="#593a0c" stroke="#2e1d0a" stroke-width="1.5" stroke-linejoin="round"/>
<polygon points="388,226.5 391.7,226 398,227.5 405,231.7 406.7,236.7 413,240 420,241.7 428,241 431.7,245 436.7,246 443,245 450,247.5 456.7,249 463,248.3 470,250 476.7,250.8 483,249.2 485,249 485,256.7 482,263.3 483.3,270 483.3,276.7 481,280 478.3,278.3 471.7,278.3 467,281.7 465,284 461,290 453.3,293.3 443.3,295 436.7,291.7 428.3,290 420,293.3 411.7,293.3 403.3,295 395,296.7 386.7,295 378.3,296.7 377,294 376,290 374,283 375,278.3 380,275 387,271.7 397,268.3 403,265 396.7,260 393.3,253.3 392,246.7 395,240 390,233" fill="#cecfd1" stroke="#564b42" stroke-width="1.5" stroke-linejoin="round"/>
<polygon points="485,249 486,240 486,234 488,234 500,234 503,237 510,242 520,245 528,245 528,253 523,258 515,255 508,253 498,250 493,253 488,258 485,264 486,270 490,273 500,275 506,278 500,280 490,283 486,288 488,293 495,298 500,303 499,310 501,318 505,325 506,335 508,345 509,352 510,361 508,363 506,358 504,352 503,357 502,364 500,357 498,350 497,357 496,363 494,357 492,350 491,357 489,362 487,356 485,349 483,358 480,363 477.6,361 472.4,359.7 467.2,355.8 463.3,352 459.5,348 455.6,342.8 452,340 448,337 446,334.5 442,331 438,327.5 436,324 440,320.8 448,318.2 457,315.6 463.3,313 468.5,307.8 471,302 477,296 481,288 481,280 483.3,276.7 483.3,270 482,263.3 485,256.7" fill="#dca86f" stroke="#564b42" stroke-width="1.5" stroke-linejoin="round"/>
<polygon points="486,234 486,225 488,215 500,213 504,220 503,230 500,234 488,234" fill="#cecfd1" stroke="#564b42" stroke-width="1.5" stroke-linejoin="round"/>
<polygon points="238,441 239,445 239,450 237,455.6 239,458 237,462.5 236,467 236,470 235.3,485 236.8,489.7 235.3,495.7 227.7,498.7 224.7,506.3 227.7,512.4 224.7,517 220,518.4 219.4,524.5 221.6,530.5 223.2,536.6 226,542.6 232,545.6 238.3,547.2 244.3,544 250.4,545.6 255,551.7 258,557.7 261,564 264,567 269,567 275,564 282,561 290,558 298,555 303,553 302,550 302,542 301,535 300,526 299,518 300,510 302,505 308,502 314,501 319,499 323,494 327,490 332,488 340,486 347,484 351,479 351,473 355,467 362,463 370,458 377,452 385,447 392,441 398,436 402,431 406,424 403,428 397,428 390,428 383,429 376,431 369,436 362,438 355,441 348,443 339,448 333,452 328,452 321,448 314,441 307,436 305,430 298,425 294,416 289,411 281,409 272,407 263,406 258,404 253.6,415 250,417.6 246.7,419.3 245,423.6 244,428 241.5,433.2 239,437.5" fill="#bb7120" stroke="#564b42" stroke-width="1.5" stroke-linejoin="round"/>
<polygon points="238,441 234.6,439.5 231,440.5 226,444.4 222.5,448.7 220,452 216.5,454.7 213,456.5 210,458 209,463.5 204,464 200,463.4 195.6,463 191.6,464.5 193.6,470.6 186,472.6 178,476 170,480 164,483 163,490 161,500 157,506 150,506 155,518 160,528 165,538 169,548 173,558 176,571 183,578 190,585 198,593 208,598 214,596 222,594 231,591 239,587 239,582 241,575 244,571.4 250,570 258,568 261,564 258,557.7 255,551.7 250.4,545.6 244.3,544 238.3,547.2 232,545.6 226,542.6 223.2,536.6 221.6,530.5 219.4,524.5 220,518.4 224.7,517 227.7,512.4 224.7,506.3 227.7,498.7 235.3,495.7 236.8,489.7 235.3,485 236,470 236,467 237,462.5 239,458 237,455.6 239,450 239,445" fill="#cecfd1" stroke="#564b42" stroke-width="1.5" stroke-linejoin="round"/>
<polygon points="176,571 180,580 185,593 190,603 195,613 200,623 205,633 210,643 214,653 218,663 223,670 228,676 234,680 230,673 230,663 233,653 230,645 228,635 223,630 220,623 218,615 215,608 210,603 208,598 198,593 190,585 183,578" fill="#cecfd1" stroke="#564b42" stroke-width="1.5" stroke-linejoin="round"/>
<polygon points="261,564 264,567 269,567 275,564 282,561 290,558 298,555 303,553 301,560 299,568 296,578 292,588 290,598 291,607 293,616 294,620 293,627.5 289,630 280,631.3 277.5,635 274,641 271.3,646.3 272,651.3 274,653 270,656.3 265,658 258,663 253,669 245,677 238,681 234,680 230,673 230,663 233,653 230,645 228,635 223,630 220,623 218,615 215,608 210,603 208,598 214,596 222,594 231,591 239,587 239,582 241,575 244,571.4 250,570 258,568" fill="#dca86f" stroke="#564b42" stroke-width="1.5" stroke-linejoin="round"/>
<polygon points="528,245 540,241 553,240 565,240 575,238 580,235 578,228 571,225 570,220 580,218 593,215 600,208 610,203 620,198 630,193 635,185 640,184 648,188 658,185 668,183 675,181 680,185 682,193 684,200 690,204 700,208 704,213 703,218 698,223 693,225 694,230 698,235 695,235 690,233 685,230 675,230 668,235 660,238 655,240 645,243 635,248 625,253 618,260 613,268 615,273 610,280 606,288 605,296 605,300 598,300 590,303 584,303 583,295 588,285 585,282 575,281 560,280 545,279 533,278 529,273 528,258 528,253" fill="#f1e0ce" stroke="#564b42" stroke-width="1.5" stroke-linejoin="round"/>
<polygon points="655,240 653,250 648,260 645,268 635,270 625,270 615,273 613,268 618,260 625,253 635,248 645,243" fill="#cecfd1" stroke="#564b42" stroke-width="1.5" stroke-linejoin="round"/>
<polygon points="615,273 625,270 635,272 643,278 640,288 638,298 633,305 625,308 615,308 608,305 605,296 606,288 610,280" fill="#cecfd1" stroke="#564b42" stroke-width="1.5" stroke-linejoin="round"/>
<polygon points="584,303 590,303 598,300 605,300 608,305 612,308 612,317 609,333 606,347 601,354 594,353 592,342 590,331 587,317 585,308" fill="#cecfd1" stroke="#564b42" stroke-width="1.5" stroke-linejoin="round"/>
<polygon points="560,310 566,306 576,303 584,303 585,308 581,313 576,318 573,325 567,331 562,328 559,318" fill="#cecfd1" stroke="#564b42" stroke-width="1.5" stroke-linejoin="round"/>
<polygon points="528,258 530,262 538,263 548,260 558,263 568,260 578,259 583,260 586,265 593,270 595,275 592,279 585,282 575,281 560,280 545,279 533,278 529,273" fill="none" stroke="#5e5246" stroke-width="1.5"/>
<polyline points="580,235 590,238 603,237 615,238 625,233 633,223 645,220 660,216 670,214 672,223 670,228 675,230" fill="none" stroke="#6e6254" stroke-width="1.5"/>
<polygon points="225,194 223,199 227,202 233,202 233,197 230,193" fill="#cecfd1" stroke="#564b42" stroke-width="1.3"/>
<polyline points="111,348 130,349" fill="none" stroke="#111" stroke-width="2.4" stroke-linecap="round"/>
<polyline points="119,360.5 134,361" fill="none" stroke="#111" stroke-width="2.4" stroke-linecap="round"/>
<polyline points="108,356 113,357" fill="none" stroke="#111" stroke-width="2.4" stroke-linecap="round"/>
<polyline points="485,349 486,358" fill="none" stroke="#111" stroke-width="2.4" stroke-linecap="round"/>
<polyline points="492,350 492,358" fill="none" stroke="#111" stroke-width="2.4" stroke-linecap="round"/>
<polyline points="498,350 498,358" fill="none" stroke="#111" stroke-width="2.4" stroke-linecap="round"/>
<polyline points="504,352 504,359" fill="none" stroke="#111" stroke-width="2.4" stroke-linecap="round"/>
<polyline points="273,653 281,654.5 283.5,657" fill="none" stroke="#111" stroke-width="2.4" stroke-linecap="round"/>
<polyline points="182,586 186,593" fill="none" stroke="#111" stroke-width="2.4" stroke-linecap="round"/>
<polyline points="207,635 210,646" fill="none" stroke="#111" stroke-width="2.4" stroke-linecap="round"/>
<polyline points="214,658 216,665" fill="none" stroke="#111" stroke-width="2.4" stroke-linecap="round"/>
<polyline points="125,413 126.5,424" fill="none" stroke="#111" stroke-width="2.4" stroke-linecap="round"/>
<polyline points="128.5,431 131,441" fill="none" stroke="#111" stroke-width="2.4" stroke-linecap="round"/>
<polyline points="161,504 162,513 159,522" fill="none" stroke="#564b42" stroke-width="1.5"/>

<text x="381" y="310.5" class="lab" letter-spacing="0.25">Jharkhand</text>
<text x="292.5" y="359.5" class="lab" letter-spacing="0.35">Chhattisgarh</text>
<text x="377" y="389.5" class="lab">Odisha</text>


<text x="537.5" y="544" class="lt">coal production</text>
<text x="537.5" y="567.5" class="lt" textLength="174.5" lengthAdjust="spacing">(million metric tons)</text>
<rect x="552" y="580" width="25" height="12" fill="#c8c9cc"/>
<rect x="552" y="604" width="25" height="12" fill="#f0e0d1"/>
<rect x="552" y="627.5" width="25" height="12" fill="#dea56b"/>
<rect x="552" y="651.5" width="25" height="12" fill="#c2711f"/>
<rect x="552" y="675.5" width="25" height="12" fill="#593a0e"/>
<text x="588" y="592.5" class="ll">NA</text>
<text x="588" y="616" class="ll">0-10</text>
<text x="588" y="640" class="ll">10-50</text>
<text x="588" y="664" class="ll">50-100</text>
<text x="588" y="688" class="ll">100+</text>


<defs><linearGradient id="yg" x1="683" y1="0" x2="710" y2="0" gradientUnits="userSpaceOnUse"><stop offset="0" stop-color="#eef0a8"/><stop offset="0.45" stop-color="#cfe07a"/><stop offset="1" stop-color="#7fae4a"/></linearGradient>
<linearGradient id="bl" x1="692" y1="0" x2="716" y2="0" gradientUnits="userSpaceOnUse"><stop offset="0" stop-color="#bfe6f2"/><stop offset="0.5" stop-color="#6aaed0"/><stop offset="1" stop-color="#3f7fa6"/></linearGradient></defs>
<path d="M683.5,669 Q693,661 710,664" fill="none" stroke="url(#yg)" stroke-width="2.6" stroke-linecap="round"/>
<path d="M693,668.5 Q713,665 715,677 Q715.5,680.5 714,683" fill="none" stroke="url(#bl)" stroke-width="2" stroke-linecap="round"/>
<text x="676" y="690" class="eia">eia</text>

</svg>
<div class="title">India coal production by state (2012)</div>
</body></html>
